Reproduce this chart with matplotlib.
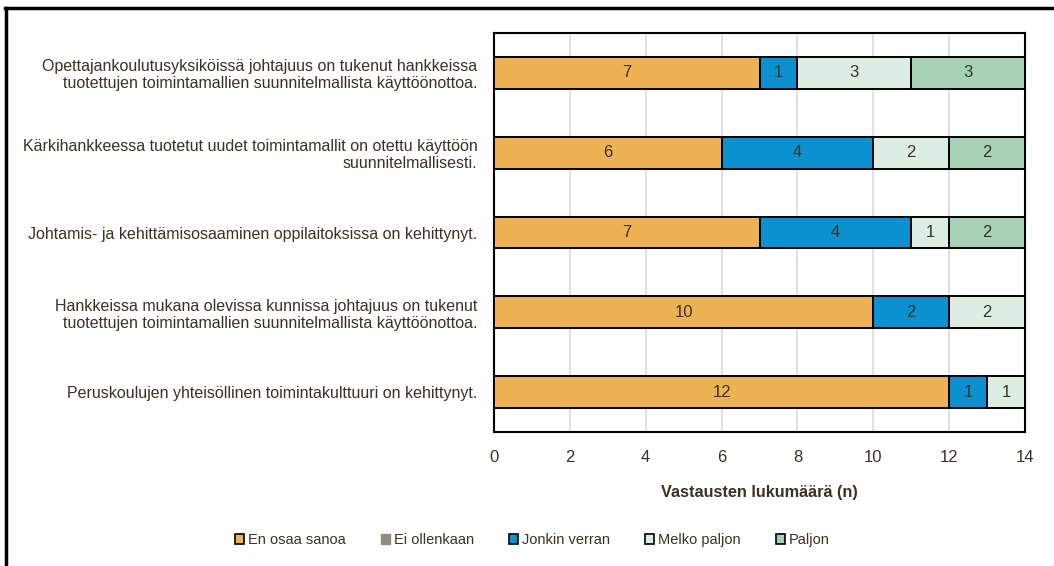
import matplotlib.pyplot as plt
from matplotlib.lines import Line2D
from matplotlib.patches import Patch
import numpy as np

plt.rcParams['font.family'] = ['Liberation Sans', 'DejaVu Sans']

# Väittämät (ylhäältä alas)
kysymykset = [
    'Opettajankoulutusyksiköissä johtajuus on tukenut hankkeissa\ntuotettujen toimintamallien suunnitelmallista käyttöönottoa.',
    'Kärkihankkeessa tuotetut uudet toimintamallit on otettu käyttöön\nsuunnitelmallisesti.',
    'Johtamis- ja kehittämisosaaminen oppilaitoksissa on kehittynyt.',
    'Hankkeissa mukana olevissa kunnissa johtajuus on tukenut\ntuotettujen toimintamallien suunnitelmallista käyttöönottoa.',
    'Peruskoulujen yhteisöllinen toimintakulttuuri on kehittynyt.',
]

vastaukset = ['En osaa sanoa', 'Ei ollenkaan', 'Jonkin verran', 'Melko paljon', 'Paljon']
en_osaa = [7, 6, 7, 10, 12]
ei_ollenkaan = [0, 0, 0, 0, 0]
jonkin_verran = [1, 4, 4, 2, 1]
melko_paljon = [3, 2, 1, 2, 1]
paljon = [3, 2, 2, 0, 0]

sarjat = [en_osaa, ei_ollenkaan, jonkin_verran, melko_paljon, paljon]
varit = ['#EDB254', '#958B82', '#0B91CF', '#DCEEE3', '#A6D1B4']
tekstivari = '#3a3223'

fig = plt.figure(figsize=(10.54, 5.66), dpi=100)
ax = fig.add_axes([0.4687, 0.2367, 0.5038, 0.705])

y = np.arange(len(kysymykset))
vasen = np.zeros(len(kysymykset))
for arvot, vari in zip(sarjat, varit):
    arvot = np.array(arvot, dtype=float)
    ax.barh(y, arvot, left=vasen, height=0.4, color=vari,
            edgecolor='black', linewidth=1.4, zorder=3)
    for yi, v, l in zip(y, arvot, vasen):
        if v > 0:
            ax.text(l + v / 2, yi, f'{int(v)}', ha='center', va='center',
                    fontsize=12, color=tekstivari, zorder=4)
    vasen = vasen + arvot

ax.set_xlim(0, 14)
ax.set_ylim(len(kysymykset) - 0.5, -0.5)
ax.set_xticks(range(0, 15, 2))
ax.set_yticks(y)
ax.set_yticklabels(kysymykset, fontsize=11.5, color=tekstivari, linespacing=1.15)
ax.tick_params(axis='x', length=0, pad=13, labelsize=12, labelcolor=tekstivari)
ax.tick_params(axis='y', length=0, pad=12)
ax.grid(axis='x', color='#dcdcdc', linewidth=1.2, zorder=0)
for s in ax.spines.values():
    s.set_color('black')
    s.set_linewidth(1.5)

ax.set_xlabel('Vastausten lukumäärä (n)', fontsize=11.7, fontweight='bold',
              color=tekstivari, labelpad=14)

kahvat = []
for nimi, vari in zip(vastaukset, varit):
    if nimi == 'Ei ollenkaan':
        kahvat.append(Patch(facecolor=vari, edgecolor=vari, label=nimi))
    else:
        kahvat.append(Patch(facecolor=vari, edgecolor='black', linewidth=1.2, label=nimi))
fig.legend(handles=kahvat, loc='center', bbox_to_anchor=(0.505, 0.046), ncol=5,
           frameon=False, fontsize=10.5, handlelength=0.65,
           handleheight=0.65, handletextpad=0.25, columnspacing=2.4,
           labelcolor=tekstivari)

# kuvan reunaviivat
fig.add_artist(Line2D([0.0057, 0.0057], [0, 0.985], transform=fig.transFigure,
                      color='black', linewidth=2.5))
fig.add_artist(Line2D([0.0045, 1.0], [0.985, 0.985], transform=fig.transFigure,
                      color='black', linewidth=2.5))

fig.savefig('out.png', dpi=100)
